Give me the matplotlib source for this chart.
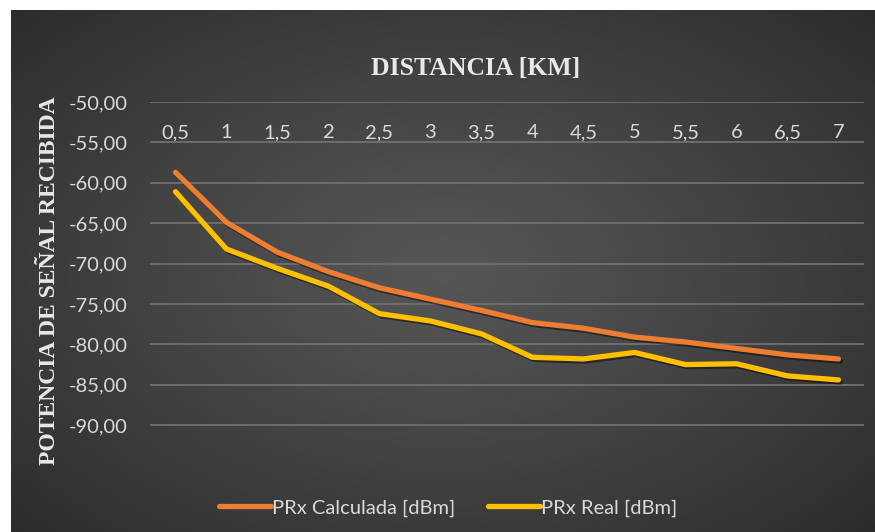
import numpy as np
import matplotlib.pyplot as plt
import matplotlib.patheffects as pe

# distances in km and received power in dBm
distancias = [0.5, 1, 1.5, 2, 2.5, 3, 3.5, 4, 4.5, 5, 5.5, 6, 6.5, 7]
etiquetas_x = ['0,5', '1', '1,5', '2', '2,5', '3', '3,5', '4', '4,5', '5', '5,5', '6', '6,5', '7']
prx_calculada = [-58.7, -64.9, -68.6, -71.0, -73.0, -74.4, -75.8, -77.3, -78.0,
                 -79.1, -79.7, -80.5, -81.3, -81.8]
prx_real = [-61.1, -68.2, -70.6, -72.8, -76.2, -77.1, -78.7, -81.6, -81.8,
            -81.0, -82.5, -82.4, -83.9, -84.4]
ticks_y = [-50, -55, -60, -65, -70, -75, -80, -85, -90]

W, H = 875, 532
fig = plt.figure(figsize=(W / 100, H / 100), dpi=100, facecolor='white')

# dark radial background of the chart area
bg = fig.add_axes([11 / W, 0, 1 - 11 / W, 1 - 10 / H], zorder=0)
yy, xx = np.mgrid[-1:1:300j, -1:1:500j]
r = np.sqrt((xx / 1.05) ** 2 + (yy / 1.1) ** 2) / np.sqrt(2)
centro, borde = 0x56, 0x29
gris = (centro + (borde - centro) * np.clip(r, 0, 1) ** 1.1) / 255.0
bg.imshow(np.dstack([gris, gris, gris]), aspect='auto', extent=[0, 1, 0, 1])
bg.axis('off')

ax = fig.add_axes([150 / W, 1 - 457.5 / H, (864 - 150) / W, (457.5 - 102) / H], zorder=1)
ax.patch.set_alpha(0)

idx = np.arange(len(distancias))
sombra = [pe.SimpleLineShadow(offset=(1.2, -1.5), shadow_color='black', alpha=0.45), pe.Normal()]
ax.plot(idx, prx_calculada, color='#ED7D31', lw=3.8, solid_capstyle='round',
        solid_joinstyle='round', label='PRx Calculada [dBm]', path_effects=sombra)
ax.plot(idx, prx_real, color='#FFC000', lw=3.8, solid_capstyle='round',
        solid_joinstyle='round', label='PRx Real [dBm]', path_effects=sombra)

ax.set_xlim(-0.5, len(distancias) - 0.5)
ax.set_ylim(-94, -50)
ax.set_yticks(ticks_y)
ax.set_yticklabels([f'{v:.2f}'.replace('.', ',') for v in ticks_y])
ax.set_xticks(idx)
ax.set_xticklabels(etiquetas_x)
ax.grid(axis='y', color='#707070', lw=1.3)
ax.set_axisbelow(True)
for s in ax.spines.values():
    s.set_visible(False)

ax.tick_params(axis='y', length=0, pad=16, labelsize=14.5, labelcolor='#d9d9d9')
ax.tick_params(axis='x', length=0, bottom=False, labelbottom=False, top=True,
               labeltop=True, pad=-28, labelsize=14.5, labelcolor='#d9d9d9')
for t in ax.get_xticklabels() + ax.get_yticklabels():
    t.set_family(['Lato', 'DejaVu Sans'])

fig.text(476 / W, 1 - 69 / H, 'DISTANCIA [KM]', ha='center', va='center',
         fontsize=18.5, fontweight='bold', family='Liberation Serif', color='#e8e8e8')
fig.text(50 / W, 1 - 281 / H, 'POTENCIA DE SEÑAL RECIBIDA', ha='center', va='center',
         rotation=90, fontsize=17, fontweight='bold', family='Liberation Serif',
         color='#e8e8e8')

leg = fig.legend(loc='center', bbox_to_anchor=(448 / W, 1 - 508 / H), ncol=2,
                 frameon=False, handlelength=2.6, handletextpad=0.05,
                 columnspacing=1.6, prop={'family': 'Lato', 'size': 14.5})
for t in leg.get_texts():
    t.set_color('#d9d9d9')
for l in leg.get_lines():
    l.set_linewidth(3.8)
    l.set_path_effects([])

fig.savefig('out.png', dpi=100, facecolor='white')
